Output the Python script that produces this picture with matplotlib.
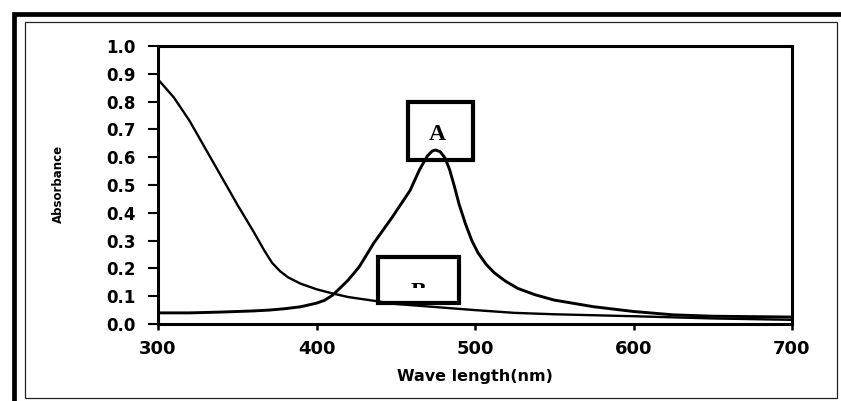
import matplotlib
matplotlib.use("Agg")
import matplotlib.pyplot as plt
from matplotlib.patches import Rectangle
from matplotlib.transforms import Bbox, TransformedBbox

# wavelength grid (nm) and absorbance of the two spectra
wl_a = [300, 320, 340, 350, 360, 370, 380, 390, 400, 405, 410, 415, 420, 427,
        436, 448, 459, 465, 470, 473, 475, 478, 481, 484, 487, 490, 494, 498,
        502, 507, 512, 519, 527, 538, 550, 575, 600, 625, 650, 700]
abs_a = [0.040, 0.040, 0.043, 0.045, 0.047, 0.050, 0.055, 0.062, 0.075, 0.085,
         0.103, 0.130, 0.158, 0.206, 0.290, 0.386, 0.480, 0.555, 0.605, 0.622,
         0.626, 0.620, 0.598, 0.555, 0.495, 0.430, 0.360, 0.300, 0.255, 0.215,
         0.185, 0.155, 0.128, 0.105, 0.086, 0.062, 0.045, 0.033, 0.028, 0.025]

wl_b = [300, 310, 320, 330, 340, 350, 360, 367, 372, 377, 382, 390, 400, 410,
        420, 450, 500, 525, 550, 600, 650, 700]
abs_b = [0.880, 0.815, 0.730, 0.630, 0.530, 0.430, 0.335, 0.265, 0.220, 0.190,
         0.168, 0.145, 0.125, 0.110, 0.097, 0.072, 0.050, 0.040, 0.035, 0.028,
         0.020, 0.015]

xticks = [300, 400, 500, 600, 700]
yticks = [0.0, 0.1, 0.2, 0.3, 0.4, 0.5, 0.6, 0.7, 0.8, 0.9, 1.0]

W, H = 841, 401
fig = plt.figure(figsize=(W / 100, H / 100), dpi=100)
fig.patch.set_facecolor("white")

# frame overlay in pixel coordinates
fr = fig.add_axes([0, 0, 1, 1])
fr.set_xlim(0, W)
fr.set_ylim(H, 0)
fr.axis("off")
fr.plot([14, 14, W], [H, 14, 14], color="black", lw=3.4,
        solid_joinstyle="miter", solid_capstyle="butt")
fr.add_patch(Rectangle((25, 22), 812, 376, fill=False, ec="#222222", lw=0.9))

ax = fig.add_axes([158 / W, (H - 324) / H, 634 / W, 278 / H])
ax.plot(wl_b, abs_b, color="black", lw=1.7, zorder=3)
ax.plot(wl_a, abs_a, color="black", lw=2.1, zorder=3)

ax.set_xlim(300, 700)
ax.set_ylim(0, 1.0)
ax.set_xticks(xticks)
ax.set_yticks(yticks)
ax.set_yticklabels([f"{v:.1f}" for v in yticks])
for sp in ax.spines.values():
    sp.set_linewidth(2.2)
ax.tick_params(axis="y", direction="out", length=7, width=1.5, pad=9,
               labelsize=12)
ax.tick_params(axis="x", direction="out", length=4.5, width=1.8, pad=7,
               labelsize=13)
for lb in ax.get_xticklabels() + ax.get_yticklabels():
    lb.set_fontweight("bold")
    lb.set_family("DejaVu Sans")

ax.set_xlabel("Wave length(nm)", fontsize=11.5, fontweight="bold", labelpad=8)
fig.text(58 / W, 1 - 184 / H, "Absorbance", rotation=90, fontsize=8.5,
         fontweight="bold", ha="center", va="center")

# label boxes
ax.add_patch(Rectangle((458, 0.59), 40.5, 0.21, fill=False, ec="black",
                       lw=3.0, zorder=4, clip_on=False))
ax.text(476, 0.68, "A", fontsize=17, fontweight="bold",
        family="Liberation Serif", ha="center", va="center", zorder=5)

ax.add_patch(Rectangle((439, 0.076), 51, 0.165, fill=False, ec="black",
                       lw=3.0, zorder=4, clip_on=False))
tb = ax.text(464, 0.150, "B", fontsize=17, fontweight="bold",
             family="Liberation Serif", ha="center", va="top", zorder=5,
             clip_on=True)
tb.set_clip_box(TransformedBbox(Bbox([[439, 0.129], [490, 0.241]]),
                                ax.transData))

fig.savefig("out.png", dpi=100, facecolor="white")
